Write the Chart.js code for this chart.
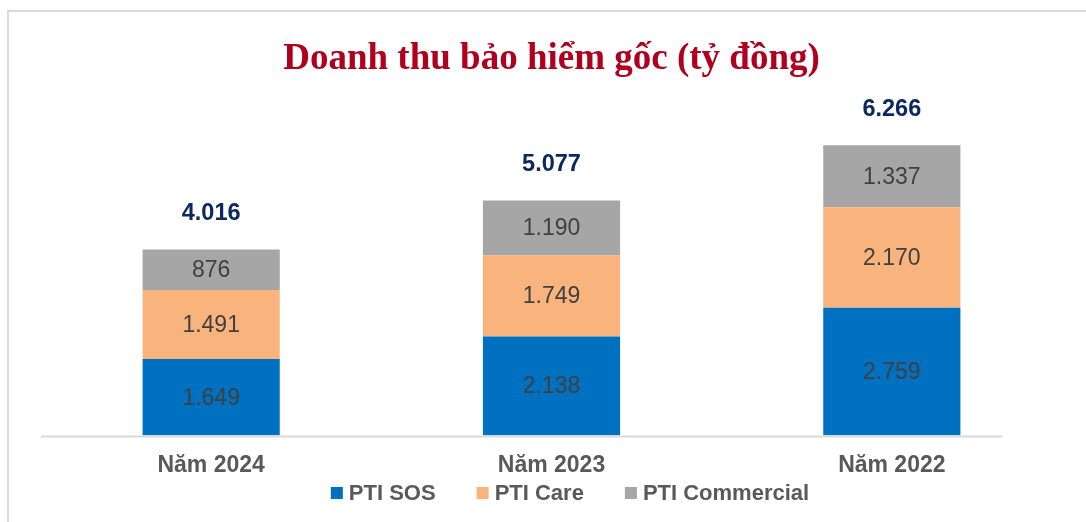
<!DOCTYPE html>
<html>
<head>
<meta charset="utf-8">
<script src="https://cdn.jsdelivr.net/npm/chart.js@4.4.1/dist/chart.umd.min.js"></script>
<style>
  html, body { margin: 0; padding: 0; background: #fff; overflow: hidden; }
  #wrap { position: relative; width: 1086px; height: 522px; }
  #c { position: absolute; left: 0; top: 0; }
  #frame { position: absolute; left: 7px; top: 10px; width: 1100px; height: 540px;
           border: 2px solid #dadada; pointer-events: none; }
</style>
</head>
<body>
<div id="wrap">
  <canvas id="c" width="1086" height="522"></canvas>
  <div id="frame"></div>
</div>
<script>
const categories = ['Năm 2024', 'Năm 2023', 'Năm 2022'];
const seriesNames = ['PTI SOS', 'PTI Care', 'PTI Commercial'];
const ptiSOS = [1649, 2138, 2759];
const ptiCare = [1491, 1749, 2170];
const ptiCommercial = [876, 1190, 1337];
const titleText = 'Doanh thu bảo hiểm gốc (tỷ đồng)';
const colors = ['#0070C0', '#F8B47C', '#A6A6A6'];

const fmt = v => v.toLocaleString('de-DE');

const labelPlugin = {
  id: 'labels',
  afterDatasetsDraw(chart) {
    const ctx = chart.ctx;
    ctx.save();
    ctx.textAlign = 'center';
    ctx.textBaseline = 'middle';
    ctx.font = '23px "Liberation Sans", Arial, sans-serif';
    ctx.fillStyle = '#404040';
    chart.data.datasets.forEach((ds, di) => {
      const meta = chart.getDatasetMeta(di);
      meta.data.forEach((bar, i) => {
        ctx.fillText(fmt(ds.data[i]), bar.x, (bar.y + bar.base) / 2 + 1);
      });
    });
    // totals
    ctx.font = 'bold 23.5px "Liberation Sans", Arial, sans-serif';
    ctx.fillStyle = '#0C2860';
    const last = chart.getDatasetMeta(chart.data.datasets.length - 1);
    categories.forEach((c, i) => {
      const total = chart.data.datasets.reduce((s, ds) => s + ds.data[i], 0);
      const bar = last.data[i];
      ctx.fillText(fmt(total), bar.x, bar.y - 36);
    });
    ctx.restore();
  },
  afterDraw(chart) {
    const ctx = chart.ctx;
    const area = chart.chartArea;
    const y0 = chart.scales.y.getPixelForValue(0);
    ctx.save();
    // baseline axis line
    ctx.strokeStyle = '#D9D9D9';
    ctx.lineWidth = 2;
    ctx.beginPath();
    ctx.moveTo(area.left, y0 + 1);
    ctx.lineTo(area.right - 60, y0 + 1);
    ctx.stroke();
    // legend
    ctx.font = 'bold 22px "Liberation Sans", Arial, sans-serif';
    ctx.textBaseline = 'middle';
    ctx.textAlign = 'left';
    const box = 12, gapText = 6, gapItem = 41;
    const widths = chart.data.datasets.map(ds => box + gapText + ctx.measureText(ds.label).width);
    const total = widths.reduce((a, b) => a + b, 0) + gapItem * (widths.length - 1);
    let x = 570 - total / 2;
    const ly = 493;
    chart.data.datasets.forEach((ds, i) => {
      ctx.fillStyle = ds.backgroundColor;
      ctx.fillRect(x, ly - box / 2, box, box);
      ctx.fillStyle = '#595959';
      ctx.fillText(ds.label, x + box + gapText, ly + 1);
      x += widths[i] + gapItem;
    });
    ctx.restore();
  }
};

new Chart(document.getElementById('c'), {
  type: 'bar',
  data: {
    labels: categories,
    datasets: [
      { label: seriesNames[0], data: ptiSOS, backgroundColor: colors[0] },
      { label: seriesNames[1], data: ptiCare, backgroundColor: colors[1] },
      { label: seriesNames[2], data: ptiCommercial, backgroundColor: colors[2] }
    ]
  },
  options: {
    responsive: false,
    animation: false,
    devicePixelRatio: 1,
    layout: { padding: { left: 41, right: 24, top: 0, bottom: 35 } },
    datasets: { bar: { categoryPercentage: 1, barPercentage: 0.403 } },
    plugins: {
      legend: { display: false },
      tooltip: { enabled: false },
      title: {
        display: true,
        text: titleText,
        color: '#B0001E',
        font: { family: '"Liberation Serif", "Times New Roman", serif', size: 37, weight: 'bold', lineHeight: 1.2 },
        padding: { top: 37, bottom: 30 }
      }
    },
    scales: {
      x: {
        stacked: true,
        grid: { display: false },
        border: { display: false },
        ticks: {
          color: '#595959',
          padding: 8,
          font: { family: '"Liberation Sans", Arial, sans-serif', size: 23, weight: 'bold' }
        }
      },
      y: {
        stacked: true,
        display: false,
        min: 0,
        max: 7000
      }
    }
  },
  plugins: [labelPlugin]
});
</script>
</body>
</html>
